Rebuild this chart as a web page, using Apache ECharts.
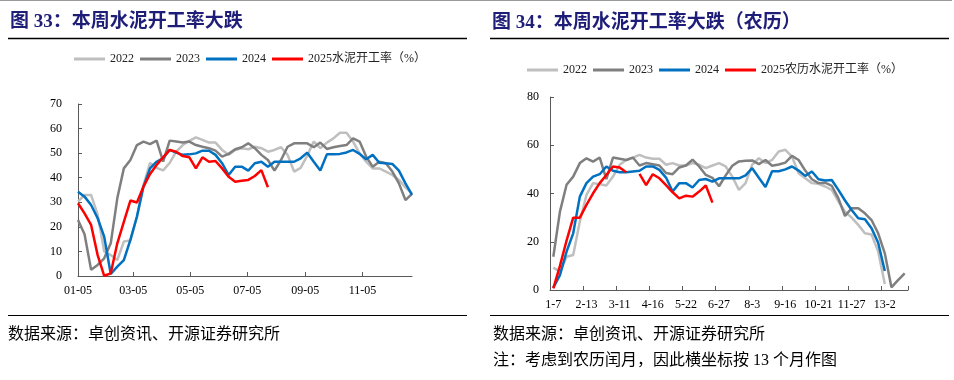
<!DOCTYPE html>
<html><head><meta charset="utf-8">
<script src="https://cdn.jsdelivr.net/npm/echarts@6/dist/echarts.min.js"></script>
<style>html,body{margin:0;padding:0;background:#fff}#c{width:954px;height:380px}</style>
</head><body><div id="c"></div><script>
// ---------- data: left chart (solar calendar, weekly from 01-05) ----------
const solarStart = [2025, 0, 5];
const solarTickLabels = ['01-05','03-05','05-05','07-05','09-05','11-05'];
const solar2022 = [30.3,33,33,25,10,8.5,6.5,14,14.5,24,37,46,44,43,46,50.6,53.3,55,56.4,55.4,54.3,54.3,51.3,49.3,51.3,52,51.6,52.6,52,50.6,51.3,52.4,49.3,42.5,44,49,54.7,52,54.3,56,58.3,58.3,54.7,49.9,46.5,43.8,43.8,42.5,41.1,39.1,36.1,33.6];
const solar2023 = [22.8,17,2.5,4.5,7.2,13.3,31.6,43.8,47.2,53.3,54.7,53.7,55.1,46.5,55.1,54.7,54.3,54.7,53.3,52.6,52,51,48.6,49.7,51.6,52.4,54,52,49.3,47.2,42.9,47.2,52.6,54,54,54,52.4,54.3,51.7,52.4,52.9,53.3,56,54.7,48.6,44.5,46.5,45.9,42.5,37.7,30.9,33.4];
const solar2024 = [34.3,32.3,28.9,23.5,16,0.8,3.8,6.5,14.7,24.2,36.4,43.8,46.5,48,51.3,50.2,49.3,49.5,49.9,51,51,49.3,45.9,41.1,44.5,44.5,42.9,45.9,46.5,44.5,46.5,46.5,46.5,46.5,47.9,50.2,46.5,42.9,49.5,49.5,49.7,50.3,51.3,49.7,47.5,49.3,46.1,45.9,45.6,42.9,37.7,33];
const solar2025 = [29.6,25.5,20.8,8.5,0.1,1.1,13.3,22,30.7,29.9,36.4,41.5,45.2,48.3,51.3,50.6,48.8,48.3,43.8,48.3,46.5,46.8,43.8,40.4,38.4,38.8,39.1,40.7,43.1,36.1];

// ---------- data: right chart (lunar calendar, 13 months) ----------
const lunarCategories = ['1-7','1-14','1-21','1-28','2-6','2-13','2-20','2-27','3-4','3-8','3-11','3-18','3-25','4-2','4-9','4-16','4-23','4-30','5-8','5-15','5-22','5-29','6-6','6-13','6-20','6-27','7-4','7-11','7-18','7-26','8-3','8-10','8-17','8-24','9-9','9-16','9-23','9-30','10-7','10-14','10-21','10-28','11-6','11-13','11-20','11-27','12-5','12-12','12-19','12-26','13-2','13-9','13-16','13-23'];
const lunar2022 = [9.3,7.6,13.8,14.5,28.4,39.4,44.3,43.8,43.3,47,51.9,53.9,54.9,56,54.9,54.4,54.4,51.9,52.6,51.6,51.6,52.6,51.9,50.5,51.6,52.6,51.2,47,41.5,44.3,52,54.6,52.6,53.9,57.4,58.1,55.3,48.4,46.3,44.3,44,42.9,41.5,36.7,32.5,30,27,23.5,23,16,2.5];
const lunar2023 = [13.8,32.5,43.6,47,52.6,54.6,53.2,54.9,46,54.9,54.4,53.9,54.9,51.6,52.6,52.1,51.6,48.5,48,50.8,51.6,54,51.2,47.7,46.5,43,47.5,51.5,53.3,53.6,53.7,52.2,53.9,51.5,52,52.8,55.6,53.9,49.5,45.9,44.3,44.5,43.2,38,30.7,33.9,33.9,31.8,29,23.5,15.2,1.1,4.1,6.9];
const lunar2024 = [1,6.2,15.9,23.5,38.7,44.3,47,48,51.2,49.4,48.8,48.8,49.1,49.4,51.2,51.2,49.8,46.6,40.8,44.3,44.3,42.5,45.6,46,44.9,46.3,46.3,46.3,46.3,47.5,50.5,46.5,42.7,49.2,49.2,50,51.2,49.5,47.3,49.1,45.9,45.4,45.6,41.5,37.1,33.2,29.7,29.3,25.6,19.6,7.9];
const lunar2025 = [0.7,10,20.5,30,30,35.3,40.1,44.3,47.7,51.2,50.8,48.8,null,48.1,43.5,48,46.3,43.5,40.5,38,39.1,38.7,40.8,43.3,36.2];

const seriesNames = ['2022','2023','2024'];
const leftLastName = '2025水泥开工率（%）';
const rightLastName = '2025农历水泥开工率（%）';
const colors = ['#bfbfbf','#7f7f7f','#0070c0','#ff0000'];

// ---------- build ----------
const DAY = 86400000;
const t0 = new Date(solarStart[0], solarStart[1], solarStart[2]).getTime();
function dayOf(s){ const p = s.split('-'); return Math.round((new Date(solarStart[0], +p[0]-1, +p[1]).getTime() - t0)/DAY); }
function pad(n){ return (n<10?'0':'')+n; }
function dayLabel(d){ const dt = new Date(t0 + d*DAY); return pad(dt.getMonth()+1)+'-'+pad(dt.getDate()); }
function toPairs(arr){ return arr.map((v,i)=>[7*i, v]); }

const SERIF = '"Liberation Serif","Noto Sans CJK SC"';
const CJK = '"Noto Sans CJK SC"';
const axisColor = '#595959';
const solarTicks = solarTickLabels.map(dayOf);
const solarMax = 7*(solar2022.length - 1);

function lineSeries(name, data, color, ax){
  return {name, type:'line', data, xAxisIndex:ax, yAxisIndex:ax, symbol:'none', showSymbol:false,
    connectNulls:false, lineStyle:{color, width:2.5}, itemStyle:{color}, emphasis:{disabled:true}, silent:true};
}

const chart = echarts.init(document.getElementById('c'), null, {renderer:'canvas'});
chart.setOption({
  animation:false,
  backgroundColor:'#fff',
  grid:[
    {left:78, top:104, width:334, height:172},
    {left:550, top:97, width:358, height:193}
  ],
  legend:[
    {left:69, top:48, icon:'rect', itemWidth:31, itemHeight:3, itemGap:6,
     data:[...seriesNames, leftLastName], selectedMode:false,
     textStyle:{fontFamily:SERIF, fontSize:12, color:'#222'}},
    {left:522, top:59, icon:'rect', itemWidth:31, itemHeight:3, itemGap:6,
     data:[...seriesNames, rightLastName], selectedMode:false,
     textStyle:{fontFamily:SERIF, fontSize:12, color:'#222'}}
  ],
  xAxis:[
    {type:'value', gridIndex:0, min:0, max:solarMax,
     axisLine:{show:true, onZero:false, lineStyle:{color:axisColor}},
     axisTick:{show:true, inside:true, length:4, customValues:solarTicks, lineStyle:{color:axisColor}},
     axisLabel:{customValues:solarTicks, margin:9, fontFamily:SERIF, fontSize:12, color:'#000',
       formatter:function(v){ return dayLabel(v); }},
     splitLine:{show:false}},
    {type:'category', gridIndex:1, data:lunarCategories, boundaryGap:true,
     axisLine:{show:true, onZero:false, lineStyle:{color:axisColor}},
     axisTick:{show:true, inside:true, length:4, interval:4, lineStyle:{color:axisColor}},
     axisLabel:{interval:4, margin:9, fontFamily:SERIF, fontSize:12, color:'#000'},
     splitLine:{show:false}}
  ],
  yAxis:[
    {type:'value', gridIndex:0, min:0, max:70, interval:10,
     axisLine:{show:true, lineStyle:{color:axisColor}},
     axisTick:{show:true, inside:true, length:4, lineStyle:{color:axisColor}},
     axisLabel:{margin:16, fontFamily:SERIF, fontSize:12, color:'#000'},
     splitLine:{show:false}},
    {type:'value', gridIndex:1, min:0, max:80, interval:20,
     axisLine:{show:true, lineStyle:{color:axisColor}},
     axisTick:{show:true, inside:true, length:4, lineStyle:{color:axisColor}},
     axisLabel:{margin:11, fontFamily:SERIF, fontSize:12, color:'#000'},
     splitLine:{show:false}}
  ],
  series:[
    lineSeries('2022', toPairs(solar2022), colors[0], 0),
    lineSeries('2023', toPairs(solar2023), colors[1], 0),
    lineSeries('2024', toPairs(solar2024), colors[2], 0),
    lineSeries(leftLastName, toPairs(solar2025), colors[3], 0),
    lineSeries('2022', lunar2022, colors[0], 1),
    lineSeries('2023', lunar2023, colors[1], 1),
    lineSeries('2024', lunar2024, colors[2], 1),
    lineSeries(rightLastName, lunar2025, colors[3], 1)
  ],
  graphic:[
    {type:'line', shape:{x1:0,y1:0.5,x2:952,y2:0.5}, style:{stroke:'#9a9a9a', lineWidth:1.2}, silent:true},
    {type:'text', x:10, y:22, style:{text:'图 33：本周水泥开工率大跌', font:'bold 19px '+SERIF, fill:'#1e1e78', verticalAlign:'middle'}},
    {type:'text', x:492, y:23, style:{text:'图 34：本周水泥开工率大跌（农历）', font:'bold 19px '+SERIF, fill:'#1e1e78', verticalAlign:'middle'}},
    {type:'line', shape:{x1:8,y1:38.5,x2:467,y2:38.5}, style:{stroke:'#000', lineWidth:1.5}, silent:true},
    {type:'line', shape:{x1:490,y1:38.5,x2:949,y2:38.5}, style:{stroke:'#000', lineWidth:1.5}, silent:true},
    {type:'line', shape:{x1:8,y1:315.5,x2:467,y2:315.5}, style:{stroke:'#000', lineWidth:1.2}, silent:true},
    {type:'line', shape:{x1:490,y1:315.5,x2:949,y2:315.5}, style:{stroke:'#000', lineWidth:1.2}, silent:true},
    {type:'text', x:8, y:333, style:{text:'数据来源：卓创资讯、开源证券研究所', font:'16px '+CJK, fill:'#000', verticalAlign:'middle'}},
    {type:'text', x:493, y:333, style:{text:'数据来源：卓创资讯、开源证券研究所', font:'16px '+CJK, fill:'#000', verticalAlign:'middle'}},
    {type:'text', x:493, y:361, style:{text:'注：考虑到农历闰月，因此横坐标按 13 个月作图', font:'16px '+SERIF, fill:'#000', verticalAlign:'middle'}}
  ]
});
</script></body></html>
